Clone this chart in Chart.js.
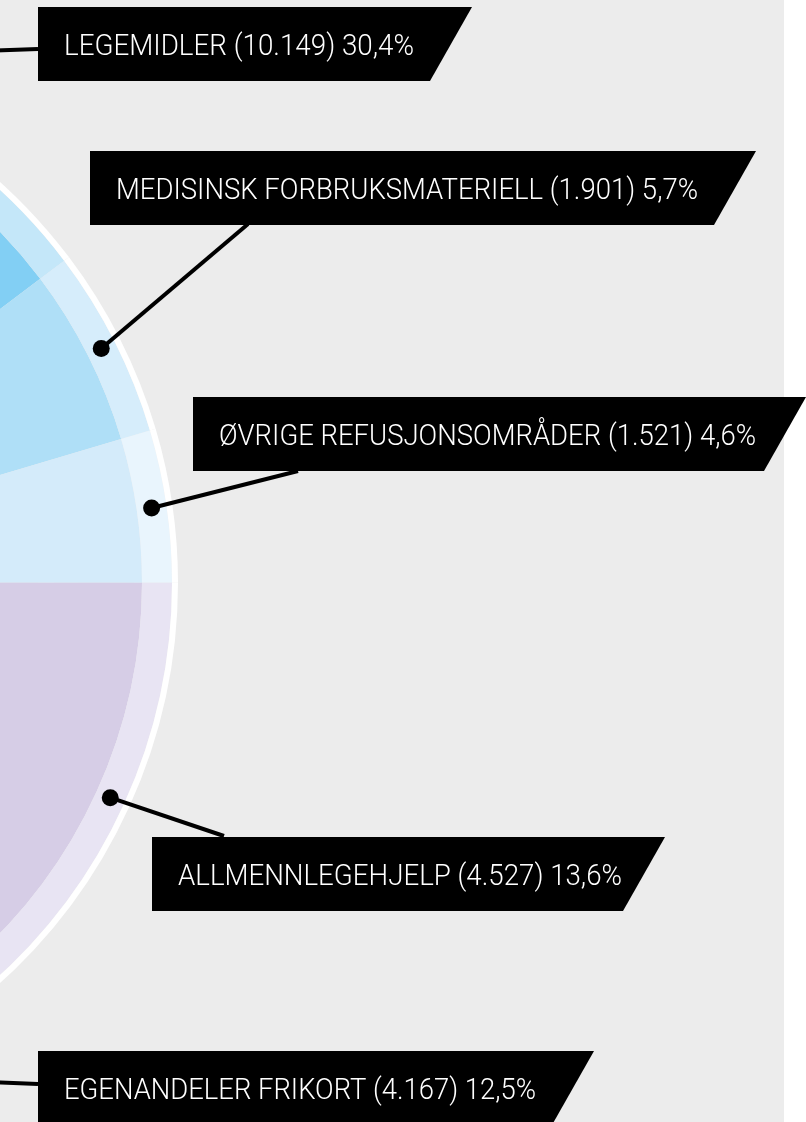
<!DOCTYPE html>
<html>
<head>
<meta charset="utf-8">
<script src="https://cdn.jsdelivr.net/npm/chart.js@4.4.0/dist/chart.umd.min.js"></script>
<style>
  html, body { margin: 0; padding: 0; width: 806px; height: 1122px; overflow: hidden; background: #fff; }
  #wrap { position: relative; width: 806px; height: 1122px; overflow: hidden; }
  #chart { position: absolute; top: 0; }
</style>
</head>
<body>
<div id="wrap"><canvas id="chart"></canvas></div>
<script>
// Data (mill. kr og andel av totalen)
const categories = ['LEGEMIDLER', 'MEDISINSK FORBRUKSMATERIELL', 'ØVRIGE REFUSJONSOMRÅDER', 'ALLMENNLEGEHJELP', 'EGENANDELER FRIKORT'];
const amounts = [10149, 1901, 1521, 4527, 4167];
const shares = [30.4, 5.7, 4.6, 13.6, 12.5];
const restShare = 33.2; // resten av kaken, utenfor bildet

// Farger: indre sektor, lys ytre ring
const innerColors = ['#82cff4', '#afdff7', '#d4ebfa', '#d6cde6', '#d6cde6', '#d6cde6'];
const bandColors  = ['#c4e7f9', '#d6edfb', '#e9f5fd', '#e8e4f3', '#e8e4f3', '#e8e4f3'];

// Geometri: kakesenteret ligger til venstre for bildet
const cx = -362, cy = 582.5, R = 540;
const canvasW = 2 * (806 - cx);
const canvasH = Math.ceil(2 * cy);
const canvasLeft = cx - canvasW / 2;

// Etikettbokser (sidekoordinater)
const labelBoxes = [
  { x: 38,  y: 7,    xr: 472, tw: 350, ax: 38,  ay: 49 },
  { x: 90,  y: 151,  xr: 756, tw: 582, ax: 248, ay: 224 },
  { x: 193, y: 397,  xr: 806, tw: 537, ax: 298, ay: 471 },
  { x: 152, y: 837,  xr: 665, tw: 444, ax: 224, ay: 836 },
  { x: 38,  y: 1051, xr: 594, tw: 472, ax: 38,  ay: 1084 }
];

const fmtAmount = n => String(n).replace(/\B(?=(\d{3})+(?!\d))/g, '.');
const fmtShare = s => s.toFixed(1).replace('.', ',') + '%';
const labelTexts = categories.map((c, i) => `${c} (${fmtAmount(amounts[i])}) ${fmtShare(shares[i])}`);

const pieData = [...shares, restShare];

const canvas = document.getElementById('chart');
canvas.width = canvasW;
canvas.height = canvasH;
canvas.style.left = canvasLeft + 'px';
canvas.style.width = canvasW + 'px';
canvas.style.height = canvasH + 'px';

const backgroundPlugin = {
  id: 'bg',
  beforeDraw(chart) {
    const c = chart.ctx;
    c.save();
    c.fillStyle = '#ffffff';
    c.fillRect(0, 0, chart.width, chart.height);
    c.translate(-canvasLeft, 0);
    c.fillStyle = '#ececec';
    c.fillRect(0, 0, 784, chart.height);
    c.restore();
  }
};

const calloutPlugin = {
  id: 'callouts',
  afterDraw(chart) {
    const c = chart.ctx;
    const band = chart.getDatasetMeta(1).data;
    c.save();
    c.translate(-canvasLeft, 0);
    labelBoxes.forEach((b, i) => {
      const arc = band[i];
      const mid = (arc.startAngle + arc.endAngle) / 2;
      const r = (arc.innerRadius + arc.outerRadius) / 2;
      const dx = arc.x + canvasLeft + Math.cos(mid) * r;
      const dy = arc.y + Math.sin(mid) * r;

      // linje + prikk
      c.strokeStyle = '#000';
      c.lineWidth = 4;
      c.beginPath();
      c.moveTo(dx, dy);
      c.lineTo(b.ax, b.ay);
      c.stroke();
      c.fillStyle = '#000';
      c.beginPath();
      c.arc(dx, dy, 8.5, 0, Math.PI * 2);
      c.fill();

      // boks med skrå høyrekant
      const h = 74, slant = 42;
      c.beginPath();
      c.moveTo(b.x, b.y);
      c.lineTo(b.xr, b.y);
      c.lineTo(b.xr - slant, b.y + h);
      c.lineTo(b.x, b.y + h);
      c.closePath();
      c.fillStyle = '#000';
      c.fill();

      // tekst
      c.font = '300 30px Roboto, "Open Sans", sans-serif';
      c.textBaseline = 'alphabetic';
      c.textAlign = 'left';
      const w = c.measureText(labelTexts[i]).width;
      c.save();
      c.translate(b.x + 26, b.y + 48);
      c.scale(b.tw / w, 1);
      c.fillStyle = '#fff';
      c.fillText(labelTexts[i], 0, 0);
      c.restore();
    });
    c.restore();
  }
};

new Chart(canvas, {
  type: 'pie',
  data: {
    labels: [...categories, 'REST'],
    datasets: [
      { data: pieData, backgroundColor: '#ffffff', borderWidth: 0, weight: 6 },
      { data: pieData, backgroundColor: bandColors, borderWidth: 0, weight: 30 },
      { data: pieData, backgroundColor: innerColors, borderWidth: 0, weight: 504 }
    ]
  },
  options: {
    responsive: false,
    animation: false,
    devicePixelRatio: 1,
    radius: R,
    rotation: -56.5,
    hoverOffset: 0,
    events: [],
    plugins: { legend: { display: false }, tooltip: { enabled: false } }
  },
  plugins: [backgroundPlugin, calloutPlugin]
});
</script>
</body>
</html>
